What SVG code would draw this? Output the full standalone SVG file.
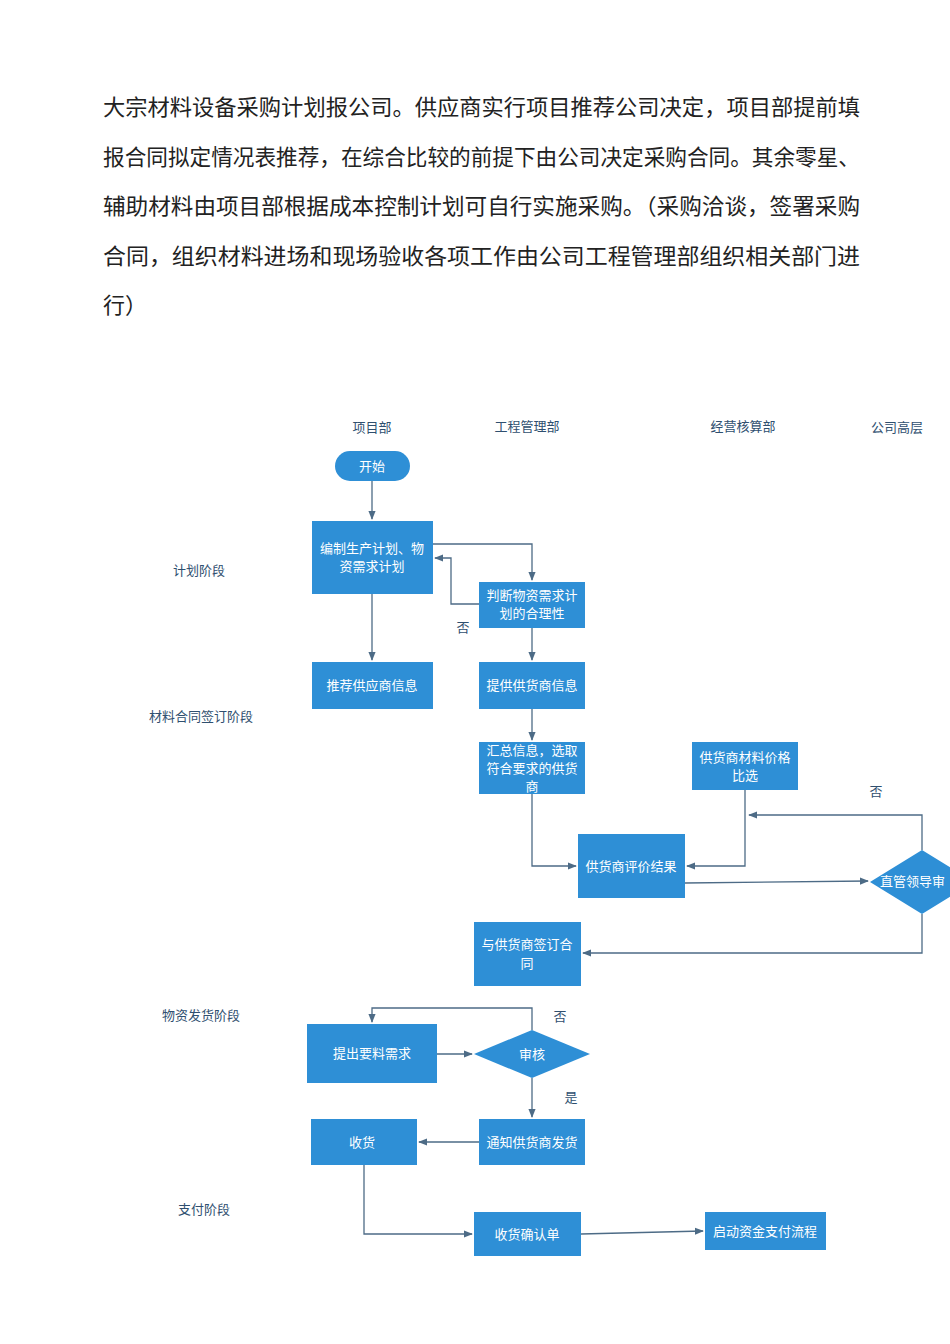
<svg xmlns="http://www.w3.org/2000/svg" width="950" height="1344" viewBox="0 0 950 1344">
<style>
.p{font-family:"Liberation Serif","Noto Sans CJK SC",serif;font-size:22px;fill:#222}
.h{font-family:"Noto Sans CJK SC",sans-serif;font-size:13px;fill:#2f4f6f;text-anchor:middle}
.b{fill:#2e8fd6}
.t{font-family:"Noto Sans CJK SC",sans-serif;font-size:13px;fill:#fff;text-anchor:middle}
.c path{fill:none;stroke:#4d6b86;stroke-width:1.3;marker-end:url(#a)}
</style>
<defs><marker id="a" viewBox="0 0 10 10" refX="9" refY="5" markerWidth="7" markerHeight="7" orient="auto"><path d="M0,1L10,5L0,9z" fill="#4d6b86"/></marker></defs>
<g id="para">
<text class="p" x="103" y="115" textLength="757" lengthAdjust="spacingAndGlyphs">大宗材料设备采购计划报公司。供应商实行项目推荐公司决定，项目部提前填</text>
<text class="p" x="103" y="165" textLength="757" lengthAdjust="spacingAndGlyphs">报合同拟定情况表推荐，在综合比较的前提下由公司决定采购合同。其余零星、</text>
<text class="p" x="103" y="214" textLength="757" lengthAdjust="spacingAndGlyphs">辅助材料由项目部根据成本控制计划可自行实施采购。（采购洽谈，签署采购</text>
<text class="p" x="103" y="264" textLength="757" lengthAdjust="spacingAndGlyphs">合同，组织材料进场和现场验收各项工作由公司工程管理部组织相关部门进</text>
<text class="p" x="103" y="313">行）</text>
</g>
<g id="headers">
<text class="h" x="372" y="432">项目部</text><text class="h" x="527" y="431">工程管理部</text>
<text class="h" x="743" y="431">经营核算部</text><text class="h" x="897" y="432">公司高层</text>
<text class="h" x="199" y="575">计划阶段</text><text class="h" x="201" y="721">材料合同签订阶段</text>
<text class="h" x="201" y="1020">物资发货阶段</text><text class="h" x="204" y="1214">支付阶段</text>
<text class="h" x="463" y="632">否</text><text class="h" x="876" y="796">否</text>
<text class="h" x="560" y="1021">否</text><text class="h" x="571" y="1102">是</text>
</g>
<g class="c" id="connectors">
<path d="M372,481V519"/>
<path d="M433,544H532V580"/>
<path d="M479,604H451V558H435"/>
<path d="M372,594V660"/>
<path d="M532,628V660"/>
<path d="M532,709V740"/>
<path d="M532,794V866H576"/>
<path d="M745,790V866H687"/>
<path d="M685,883L868,881"/>
<path d="M922,850V815H749"/>
<path d="M922,914V953H583"/>
<path d="M437,1054H472"/>
<path d="M532,1030V1008H372V1022"/>
<path d="M532,1078V1117"/>
<path d="M479,1142H419"/>
<path d="M364,1165V1234H472"/>
<path d="M581,1234L703,1231"/>
</g>
<g id="n-start"><rect class="b" x="335" y="451" width="75" height="30" rx="15"/><text class="t" x="372" y="471">开始</text></g>
<g id="n1"><rect class="b" x="312" y="521" width="121" height="73"/><text class="t" x="372" y="553">编制生产计划、物</text><text class="t" x="372" y="571">资需求计划</text></g>
<g id="n2"><rect class="b" x="479" y="582" width="106" height="46"/><text class="t" x="532" y="600">判断物资需求计</text><text class="t" x="532" y="618">划的合理性</text></g>
<g id="n3"><rect class="b" x="312" y="662" width="121" height="47"/><text class="t" x="372" y="690">推荐供应商信息</text></g>
<g id="n4"><rect class="b" x="479" y="662" width="106" height="47"/><text class="t" x="532" y="690">提供供货商信息</text></g>
<g id="n5"><rect class="b" x="479" y="742" width="106" height="52"/><text class="t" x="532" y="755">汇总信息，选取</text><text class="t" x="532" y="773">符合要求的供货</text><text class="t" x="532" y="791">商</text></g>
<g id="n6"><rect class="b" x="692" y="742" width="106" height="48"/><text class="t" x="745" y="762">供货商材料价格</text><text class="t" x="745" y="780">比选</text></g>
<g id="n7"><rect class="b" x="578" y="834" width="107" height="64"/><text class="t" x="631" y="871">供货商评价结果</text></g>
<g id="n8"><path class="b" d="M870,882L922,850L974,882L922,914z"/><text class="t" x="880" y="886" style="text-anchor:start">直管领导审</text></g>
<g id="n9"><rect class="b" x="474" y="922" width="107" height="64"/><text class="t" x="527" y="949">与供货商签订合</text><text class="t" x="527" y="968">同</text></g>
<g id="n10"><rect class="b" x="307" y="1024" width="130" height="59"/><text class="t" x="372" y="1058">提出要料需求</text></g>
<g id="n11"><path class="b" d="M474,1054L532,1030L590,1054L532,1078z"/><text class="t" x="532" y="1059">审核</text></g>
<g id="n12"><rect class="b" x="311" y="1119" width="106" height="46"/><text class="t" x="362" y="1147">收货</text></g>
<g id="n13"><rect class="b" x="479" y="1119" width="106" height="46"/><text class="t" x="532" y="1147">通知供货商发货</text></g>
<g id="n14"><rect class="b" x="474" y="1212" width="107" height="44"/><text class="t" x="527" y="1239">收货确认单</text></g>
<g id="n15"><rect class="b" x="705" y="1212" width="121" height="38"/><text class="t" x="765" y="1236">启动资金支付流程</text></g>
</svg>
